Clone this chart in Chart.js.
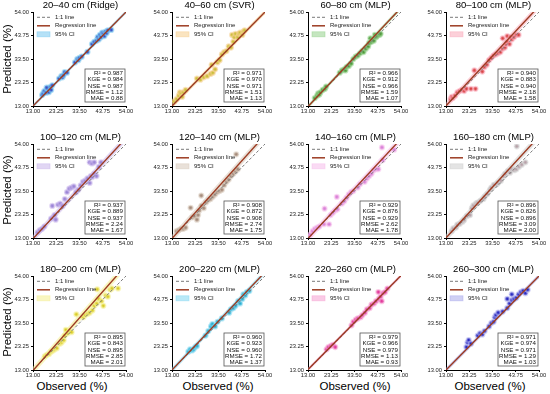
<!DOCTYPE html>
<html>
<head>
<meta charset="utf-8">
<script src="https://cdn.jsdelivr.net/npm/chart.js@4.4.1/dist/chart.umd.min.js"></script>
<style>
  body { margin: 0; background: #fff; }
  #wrap { position: relative; width: 550px; height: 394px; overflow: hidden; font-family: Arial, "Liberation Sans", sans-serif; }
  .pn { position: absolute; }
  .lbl { position: absolute; font-size: 11.5px; color: #000; white-space: nowrap; }
</style>
</head>
<body>
<div id="wrap"></div>
<script>
// panel titles
const titles = [
  '20–40 cm (Ridge)', '40–60 cm (SVR)', '60–80 cm (MLP)', '80–100 cm (MLP)',
  '100–120 cm (MLP)', '120–140 cm (MLP)', '140–160 cm (MLP)', '160–180 cm (MLP)',
  '180–200 cm (MLP)', '200–220 cm (MLP)', '220–260 cm (MLP)', '260–300 cm (MLP)'
];
const tickVals = [13, 23.25, 33.5, 43.75, 54];

// observed / predicted per panel (%)
const observed = [
  [17,17.5,18,18.8,19.5,20,20.5,21,21.5,19,24.5,25.5,26,26.5,27,28,31.5,32.5,33,33.5,34.5,37,39,40,41,41.5,42,42.5,43,43.5,44,44.5,45,45.5,46,47.5],
  [14,15,16,16.5,17,17.5,18,19,24,25.5,27,28.5,30,31,30.5,32,33,34,35,36,37,38,39,39.5,40,40.5,41,42,42.5,43,44,44.5,45],
  [16,17,17.5,18,18.5,19.5,20.5,21,27,28,29,29.5,30,31,32,33,34,35,36,37,37.5,38.5,39.5,40,40.5,41,41.5,42,42.5,43,43.5,44.5,45],
  [15,15.5,16,17,18,19,20,21,22,24,25.5,26,29,30,31,32,33,34,35,36,37,38,38,39,39.5,40,40,41,41.5,42,43,44,45],
  [15,16,17,18,21,22,22.5,23,21.5,24,25,26,27,28,29,30,31,32,33,34,35,36,37,38,38.5,39,40,41,42,43,38,39,40],
  [15,16,17,18,19,21.2,22,23,24,24.5,25,25.9,26,27,28,29,30,31,32,33,34,35,36,37,38,39,40,41,42,41.3],
  [14,15,16,17,18,20,20.3,22.3,23,24,25,25.7,26,28,29,30,31,32,33,35,36,38,39,40,41,42,43,44,46,45.6,51],
  [15.5,16.2,17.4,18,19.1,20.3,21,22.2,23.6,24.4,25.1,26.3,27,28.2,29.5,30.1,31.2,32.4,33,34.1,35.3,36,37.2,38.5,39.1,40.3,41.2,42,43.1,44,45.2,46.4,48,44.2],
  [18.2,19,20.1,21,21.8,22.6,23.5,24.8,25.6,26.5,27,27.5,28.3,29.1,30,32.1,35.2,36,37.1,38,39.2,40,41.1,42,43.2,44,45.1,46,47,41.3,47.8,50.5],
  [20.2,21,21.8,22.5,23.3,24,27.8,29,30.2,30.8,32,33.1,35,38.2,39,40.1,41,42.2,43,44,44.5,45.3,46,47.1],
  [21.2,22,23.1,24,25,32.2,33,34.1,35,36.2,37,38.1,39,40.2,41,42.1,43,44.2,45,46.1,47,48,44,45.5],
  [22,22.5,23,24,27,28,29,30,32,33,34,34.5,35,36,38,40,41,42,43,44,45,46,47,48,49,40,42]
];
const predicted = [
  [17.8,18.5,19.5,18.8,20.5,19,21.2,20,22,21,25,26,25.5,26.5,27.8,27.5,32,33.5,33,34,34.5,36.6,40,41,41.5,43,42,44,43,45,44.5,43.5,45.5,44.8,46,46.2],
  [15,16,17.5,19,18.5,17,19,20,25,24.5,25.5,26,27,27.5,31,29,32,33,35.5,36.5,37,39,38.5,44,41,43,44.5,43,44.5,45,44,45.5,46],
  [16.5,17.5,18.5,18,19,20,20.5,21.5,27.5,28.5,29,28.5,30,30.5,31.5,33.5,34.5,35,36,37,36.5,38,39,40.5,42.5,41,42,41.5,44,43,43.5,44,44.5],
  [16,17,16.5,17.5,19,19.5,20,19.5,20.5,20.5,28.5,20.5,28,30,31,33,34,35,35.5,36,36.5,38,42.5,38.5,40,41,43.5,40,43,42,43,44,44],
  [15.5,16.5,17,18,21.5,22,23,21,27,27.5,28,27,30,33,34.5,35,35.5,33,34,36,37.5,38,39,37,40,39.5,41,40,44,46,46,45.5,46],
  [16,16.5,17,17,17.5,26.2,22,22.5,21,23,25,31.5,27,26,28.5,29.5,30,31,32,33,33.5,34,36,37.5,38.5,40,41,42,43,49.5],
  [14.5,16,17,17.5,18,19,25.8,19,23,24,25,30.9,25.5,28,29,30.5,32,33,33.5,35,36.5,37.5,39,40,41,42.5,43,43,47,52.5,51.5],
  [16,17.2,17.6,18.8,19.2,20.1,20.9,22.5,23,26,27.2,28.1,28.4,29.2,30,31.1,32.2,34,35,36.2,36.4,37.1,38,40,41,42.2,41.5,43,42.6,43,44.1,45,46,53],
  [19,19.5,20,21,21.5,22,22.5,24.5,25,26,28,30.5,29,30,29.5,37.3,36,37,37.5,38,39,41,42,44,43,41,45.5,45,48,48.2,48.6,48.6],
  [21,22,21.5,22,23,23.5,28,30,32,33,32,34,35.5,38,39.5,40,41,43,42,44,46,45.5,47,47.5],
  [22,23,23.5,24,23,32.5,34,35,35.5,36,37,38,39.5,40,41.5,42,43,44,45,46.5,47,48.5,47,43],
  [23,25,26,24.5,28,29,28.5,30,32,33.5,34,36,37,38,38.5,40,42,43.5,44,44.5,46,47,47.5,46.5,48,44,46]
];

// fitted lines
const regSlope = [1.0, 1.0, 1.05, 1.06, 1.07, 1.1, 1.06, 1.08, 1.12, 1.04, 1.0, 1.0];
const regIntercept = [0, 0, -0.9, -0.7, -1.2, -1.5, -1.0, -1.0, -1.8, -0.5, 0.2, 0];
const ciHalf = [0.8, 1.0, 0.9, 1.4, 1.5, 1.6, 1.5, 1.6, 1.7, 1.1, 0.8, 1.0];

// metrics
const statR2 = ['0.987','0.971','0.966','0.940','0.937','0.908','0.929','0.896','0.895','0.960','0.979','0.971'];
const statKGE = ['0.984','0.970','0.912','0.883','0.889','0.872','0.876','0.826','0.843','0.923','0.966','0.974'];
const statNSE = ['0.987','0.971','0.966','0.940','0.937','0.908','0.929','0.896','0.895','0.960','0.979','0.971'];
const statRMSE = ['1.12','1.51','1.59','2.18','2.24','2.74','2.62','3.09','2.85','1.72','1.13','1.29'];
const statMAE = ['0.88','1.13','1.07','1.58','1.67','1.75','1.78','2.00','2.01','1.37','0.93','1.03'];

const pointColors = ['#3b4fc4','#c9c13a','#4f9a3a','#d84545','#9b86d6','#a58b7c','#d882d8','#b8a0a8','#d8cc2a','#2ab0d0','#e03c9c','#2828c0'];
const ciColors = [
  'rgba(120,200,240,0.55)','rgba(245,205,140,0.55)','rgba(150,210,140,0.55)','rgba(250,170,185,0.55)',
  'rgba(200,180,235,0.55)','rgba(215,200,185,0.55)','rgba(245,190,235,0.55)','rgba(210,210,210,0.6)',
  'rgba(245,240,150,0.6)','rgba(130,215,240,0.55)','rgba(245,160,210,0.55)','rgba(170,170,235,0.55)'
];
const regColor = '#9c3b22';
const oneColor = '#7a7a7a';

const colLeft = [33, 172, 308, 446];
const rowTop = [12, 144, 276];
const PW = 93, PH = 94, PADL = 30, PADT = 13, PADR = 12, PADB = 10;
const FONT = 'Arial, "Liberation Sans", sans-serif';

const wrap = document.getElementById('wrap');

// title, in-plot legend and metric box
const panelDecor = {
  id: 'panelDecor',
  afterDraw(chart, args, opts) {
    const { ctx, chartArea: a } = chart;
    const i = opts.idx;
    ctx.save();
    ctx.fillStyle = '#000';
    ctx.textBaseline = 'middle';

    // title centred over the plot area
    ctx.font = '9.5px ' + FONT;
    ctx.textAlign = 'center';
    ctx.fillText(titles[i], (a.left + a.right) / 2 + 1, 6);

    // legend
    ctx.font = '6px ' + FONT;
    ctx.textAlign = 'left';
    const lx = a.left + 4, ly = a.top + 5.3;
    ctx.strokeStyle = oneColor; ctx.lineWidth = 1; ctx.setLineDash([3, 2]);
    ctx.beginPath(); ctx.moveTo(lx, ly); ctx.lineTo(lx + 13, ly); ctx.stroke();
    ctx.setLineDash([]);
    ctx.fillStyle = '#222';
    ctx.fillText('1:1 line', lx + 18, ly);
    ctx.strokeStyle = regColor; ctx.lineWidth = 1.5;
    ctx.beginPath(); ctx.moveTo(lx, ly + 8.5); ctx.lineTo(lx + 13, ly + 8.5); ctx.stroke();
    ctx.fillText('Regression line', lx + 18, ly + 8.5);
    ctx.fillStyle = ciColors[i];
    ctx.fillRect(lx, ly + 14.5, 13, 5);
    ctx.strokeStyle = ciColors[i]; ctx.lineWidth = 0.8;
    ctx.strokeRect(lx, ly + 14.5, 13, 5);
    ctx.fillStyle = '#222';
    ctx.fillText('95% CI', lx + 18, ly + 17);

    // metrics box
    const bw = 40, bh = 33;
    const bx = a.right - 1 - bw, by = a.bottom - 4 - bh;
    ctx.fillStyle = '#fff';
    ctx.fillRect(bx, by, bw, bh);
    ctx.strokeStyle = '#555'; ctx.lineWidth = 0.8;
    ctx.strokeRect(bx, by, bw, bh);
    ctx.fillStyle = '#111';
    ctx.font = '6.2px ' + FONT;
    ctx.textAlign = 'right';
    const lines = ['R² = ' + statR2[i], 'KGE = ' + statKGE[i], 'NSE = ' + statNSE[i],
                   'RMSE = ' + statRMSE[i], 'MAE = ' + statMAE[i]];
    lines.forEach((t, k) => ctx.fillText(t, bx + bw - 2, by + 4 + k * 6.4));
    ctx.restore();
  }
};

function axisCfg(isY) {
  return {
    type: 'linear', min: 13, max: 54,
    afterBuildTicks: s => { s.ticks = tickVals.map(v => ({ value: v })); },
    afterFit: s => { if (isY) s.width = PADL; else s.height = PADB; },
    grid: { display: true, drawOnChartArea: false, drawTicks: true, tickLength: 2, color: '#000' },
    border: { display: true, color: '#000', width: 1 },
    ticks: {
      font: { size: 5.8, family: FONT }, color: '#222', padding: isY ? 2 : 0,
      maxRotation: 0, autoSkip: false, callback: v => Number(v).toFixed(2)
    }
  };
}

function makePanel(i) {
  const r = Math.floor(i / 4), c = i % 4;
  const cv = document.createElement('canvas');
  cv.width = PADL + PW + PADR;
  cv.height = PADT + PH + PADB;
  cv.className = 'pn';
  cv.style.left = (colLeft[c] - PADL) + 'px';
  cv.style.top = (rowTop[r] - PADT) + 'px';
  wrap.appendChild(cv);

  const pts = observed[i].map((x, k) => ({ x, y: predicted[i][k] }));
  const reg = x => regSlope[i] * x + regIntercept[i];
  const xs = [13, 54];

  new Chart(cv, {
    type: 'scatter',
    data: {
      datasets: [
        { type: 'line', data: xs.map(x => ({ x, y: reg(x) })), borderColor: regColor, borderWidth: 1.4,
          pointRadius: 0, fill: false, showLine: true },
        { type: 'line', data: [{ x: 13, y: 13 }, { x: 54, y: 54 }], borderColor: oneColor, borderWidth: 1,
          borderDash: [3, 2], pointRadius: 0, fill: false, showLine: true },
        { data: pts, backgroundColor: pointColors[i], borderColor: ciColors[i], borderWidth: 2, pointRadius: 2.1 },
        { type: 'line', data: xs.map(x => ({ x, y: reg(x) + ciHalf[i] })), borderWidth: 0, pointRadius: 0,
          backgroundColor: ciColors[i], fill: '+1', showLine: true },
        { type: 'line', data: xs.map(x => ({ x, y: reg(x) - ciHalf[i] })), borderWidth: 0, pointRadius: 0,
          fill: false, showLine: true }
      ]
    },
    options: {
      responsive: false, animation: false, devicePixelRatio: 1,
      layout: { padding: { top: PADT, right: PADR, left: 0, bottom: 0 } },
      plugins: { legend: { display: false }, tooltip: { enabled: false }, panelDecor: { idx: i } },
      scales: { x: axisCfg(false), y: axisCfg(true) }
    },
    plugins: [panelDecor]
  });
}

for (let i = 0; i < 12; i++) makePanel(i);

// shared axis labels
const yLabY = [59, 190, 322];
yLabY.forEach(y => {
  const d = document.createElement('div');
  d.className = 'lbl';
  d.textContent = 'Predicted (%)';
  d.style.left = '7px'; d.style.top = y + 'px';
  d.style.transform = 'translate(-50%,-50%) rotate(-90deg)';
  wrap.appendChild(d);
});
const xLabX = [72, 218, 355, 490];
xLabX.forEach(x => {
  const d = document.createElement('div');
  d.className = 'lbl';
  d.textContent = 'Observed (%)';
  d.style.left = x + 'px'; d.style.top = '386px';
  d.style.transform = 'translate(-50%,-50%)';
  wrap.appendChild(d);
});
</script>
</body>
</html>
